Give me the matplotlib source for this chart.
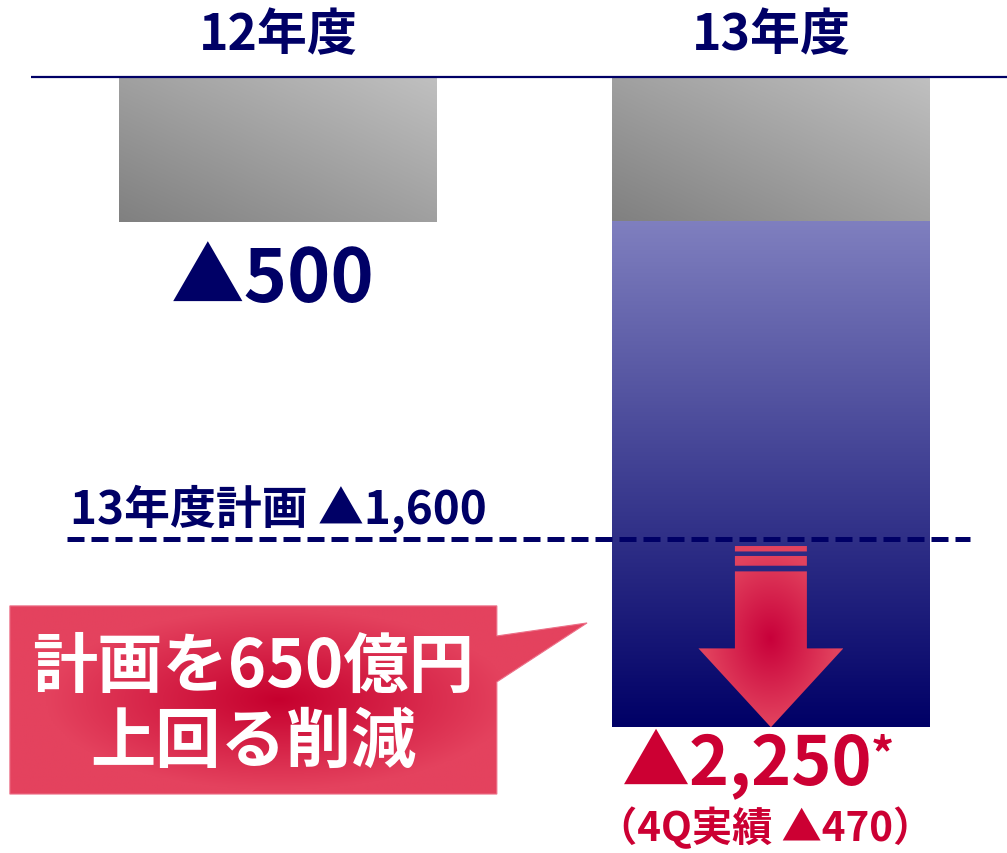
import numpy as np
import matplotlib
matplotlib.use("Agg")
import matplotlib.pyplot as plt
from matplotlib.patches import Polygon
from matplotlib.path import Path
from matplotlib.colors import to_rgb

plt.rcParams['font.family'] = ['Noto Sans CJK JP', 'DejaVu Sans']

# 構造改革費用（億円、▲はマイナス）
years = ["12年度", "13年度"]
base_cut = [500, 500]        # 前年度水準（グレー部分）
total_cut = [500, 2250]      # 年度実績
plan_13 = 1600               # 13年度計画
q4_cut = 470                 # 4Q実績
over_plan = total_cut[1] - plan_13   # 650

NAVY = "#000066"
RED = "#cc0033"

fig = plt.figure(figsize=(10.07, 8.54), dpi=100)
ax = fig.add_axes([0, 0, 1, 1])
XLIM = (-0.564, 1.479)
YLIM = (2685, -270)
bar_w = 0.645


def lerp(c0, c1, t):
    c0 = np.array(to_rgb(c0))
    c1 = np.array(to_rgb(c1))
    return c0 + (c1 - c0) * t[..., None]


def grad_image(img, x0, x1, y0, y1, clip=None, z=2):
    im = ax.imshow(img, extent=(x0, x1, y1, y0), origin='upper',
                   aspect='auto', interpolation='bilinear', zorder=z)
    if clip is not None:
        im.set_clip_path(clip, transform=ax.transData)
    return im


def gray_block(xc, top, bottom):
    u = np.linspace(0, 1, 200)[None, :]
    v = np.linspace(0, 1, 200)[:, None]
    t = (u + (1 - v)) / 2
    img = lerp("#808080", "#c0c0c0", t)
    grad_image(img, xc - bar_w / 2, xc + bar_w / 2, top, bottom)


def blue_block(xc, top, bottom):
    t = np.linspace(0, 1, 300)[:, None] * np.ones((1, 10))
    img = lerp("#7f7fbf", "#000066", t)
    grad_image(img, xc - bar_w / 2, xc + bar_w / 2, top, bottom)


# bars (hanging down from the zero line)
for i in range(len(years)):
    gray_block(i, 0, base_cut[i])
    if total_cut[i] > base_cut[i]:
        blue_block(i, base_cut[i], total_cut[i])

# zero line and year headers
ax.plot([-0.501, XLIM[1]], [0, 0], color=NAVY, lw=1.6, solid_capstyle='butt', zorder=3)
for i, y in enumerate(years):
    ax.text(i, -148, y, ha='center', va='center', fontsize=36,
            weight='bold', color=NAVY)

ax.annotate(f"▲{total_cut[0]:,}", xy=(0, total_cut[0]), xytext=(-5, -58),
            textcoords='offset pixels', ha='center', va='center',
            fontsize=53, weight='bold', color=NAVY)

# plan line
line_x0, line_x1 = -0.428, 1.404
ax.plot([line_x0, line_x1], [plan_13, plan_13], color=NAVY, lw=3.6,
        linestyle=(0, (3.4, 1.4)), dash_capstyle='butt', zorder=5)
ax.annotate(f"13年度計画 ▲{plan_13:,}", xy=(line_x0, plan_13), xytext=(3, 31),
            textcoords='offset pixels', ha='left', va='center',
            fontsize=33, weight='bold', color=NAVY)

# down arrow inside the 13年度 bar
ax_c = 1
sh, hh = 0.073, 0.147
def fy(f):
    return plan_13 + f * over_plan

strip1 = [(ax_c - sh, fy(0.035)), (ax_c + sh, fy(0.035)), (ax_c + sh, fy(0.064)), (ax_c - sh, fy(0.064))]
strip2 = [(ax_c - sh, fy(0.088)), (ax_c + sh, fy(0.088)), (ax_c + sh, fy(0.14)), (ax_c - sh, fy(0.14))]
arrow = [(ax_c - sh, fy(0.17)), (ax_c + sh, fy(0.17)), (ax_c + sh, fy(0.58)),
         (ax_c + hh, fy(0.58)), (ax_c, fy(1.0)), (ax_c - hh, fy(0.58)),
         (ax_c - sh, fy(0.58))]
arrow_path = Path.make_compound_path(
    *[Path(np.array(p + [p[0]]), closed=True) for p in (strip1, strip2, arrow)])

ay0, ay1 = fy(0.0), fy(1.0)
X, Y = np.meshgrid(np.linspace(ax_c - hh, ax_c + hh, 200), np.linspace(ay0, ay1, 200))
r = np.sqrt(((X - ax_c) / hh) ** 2 + ((Y - fy(0.53)) / (0.5 * over_plan)) ** 2)
img = lerp("#c8003a", "#e2425e", np.clip(r * 1.1, 0, 1))
grad_image(img, ax_c - hh, ax_c + hh, ay0, ay1, clip=arrow_path, z=4)

# callout box
bx0, bx1, by0, by1 = -0.544, 0.444, 1830, 2481
tip = (0.627, 1889)
callout = [(bx0, by0), (bx1, by0), (bx1, 1934), tip, (bx1, 2093), (bx1, by1), (bx0, by1)]
callout_path = Path(np.array(callout + [callout[0]]), closed=True)
cx, cy = (bx0 + bx1) / 2 + 0.05, (by0 + by1) / 2
X, Y = np.meshgrid(np.linspace(bx0, tip[0], 300), np.linspace(by0, by1, 200))
r = np.sqrt(((X - cx) / ((bx1 - bx0) / 2)) ** 2 + ((Y - cy) / ((by1 - by0) / 2)) ** 2)
img = lerp("#c6002e", "#e4425e", np.clip(r * 1.05, 0, 1))
grad_image(img, bx0, tip[0], by0, by1, clip=callout_path, z=4)
ax.add_patch(Polygon(callout, closed=True, fill=False, edgecolor="#ec7088", lw=0.8, zorder=5))
ax.text((bx0 + bx1) / 2, cy + 14, f"計画を{over_plan}億円\n上回る削減",
        ha='center', va='center', multialignment='center', linespacing=1.15,
        fontsize=47, weight='bold', color='white', zorder=6)

# result labels under the 13年度 bar
ax.annotate(f"▲{total_cut[1]:,}", xy=(1, total_cut[1]), xytext=(-24, -36),
            textcoords='offset pixels', ha='center', va='center',
            fontsize=49, weight='bold', color=RED)
ax.annotate("*", xy=(1, total_cut[1]), xytext=(111, -28),
            textcoords='offset pixels', ha='center', va='center',
            fontsize=33, weight='bold', color=RED)
ax.annotate(f"（4Q実績 ▲{q4_cut}）", xy=(1, total_cut[1]), xytext=(-6, -101),
            textcoords='offset pixels', ha='center', va='center',
            fontsize=29, weight='bold', color=RED)

ax.set_xlim(*XLIM)
ax.set_ylim(*YLIM)
ax.axis('off')

fig.savefig("out.png", dpi=100)
